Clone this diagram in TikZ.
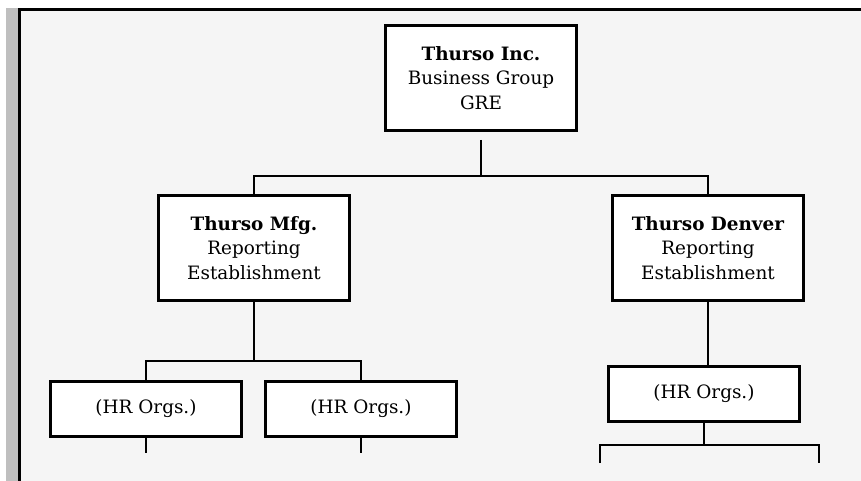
\documentclass[tikz,border=0pt]{standalone}
\usepackage{fontspec}
\setmainfont{DejaVu Serif}
\usetikzlibrary{calc}
\begin{document}
\begin{tikzpicture}[x=1pt,y=-1pt,
  orgbox/.style={draw=black,fill=white,line width=3pt,rectangle,
    minimum width=191pt,align=center,inner sep=0pt,
    font=\fontsize{18.4}{24.5}\selectfont},
  conn/.style={draw=black,line width=1.4pt},
  frameline/.style={draw=black,line width=3pt}]
\useasboundingbox (0,0) rectangle (861,481);
% page frame with grey margin strip
\fill[white] (0,0) rectangle (861,481);
\fill[black!25] (6,8) rectangle (18,481);
\fill[black!4] (19,9) rectangle (861,481);
\draw[frameline] (19.5,481) -- (19.5,9.5) -- (861,9.5);

% organisation boxes
\node[orgbox,minimum height=105pt] (top) at (481,78)
  {\textbf{Thurso Inc.}\\Business Group\\GRE};
\node[orgbox,minimum height=105pt] (mfg) at (254,248)
  {\textbf{Thurso Mfg.}\\Reporting\\Establishment};
\node[orgbox,minimum height=105pt] (denver) at (708,248)
  {\textbf{Thurso Denver}\\Reporting\\Establishment};
\node[orgbox,minimum height=55pt] (hr1) at (146,409) {(HR Orgs.)};
\node[orgbox,minimum height=55pt] (hr2) at (361,409) {(HR Orgs.)};
\node[orgbox,minimum height=55pt] (hr3) at (704,394) {(HR Orgs.)};

% branch levels
\coordinate (lvl1) at (0,176);
\coordinate (lvl2) at (0,361);
\coordinate (lvl3) at (0,445);
\coordinate (f1) at (0,453);
\coordinate (e1) at (600,463);
\coordinate (e2) at (819,463);

% connectors
\draw[conn] ([yshift=-8pt]top.south) -- (top.south |- lvl1);
\draw[conn] (mfg.north) |- (lvl1 -| denver.north) -- (denver.north);
\draw[conn] (mfg.south) -- (mfg.south |- lvl2);
\draw[conn] (hr1.north) |- (lvl2 -| hr2.north) -- (hr2.north);
\draw[conn] (hr1.south) -- (hr1.south |- f1);
\draw[conn] (hr2.south) -- (hr2.south |- f1);
\draw[conn] (denver.south) -- (denver.south |- hr3.north);
\draw[conn] (hr3.south) -- (hr3.south |- lvl3);
\draw[conn] (e1) |- (lvl3 -| e2) -- (e2);
\end{tikzpicture}
\end{document}
